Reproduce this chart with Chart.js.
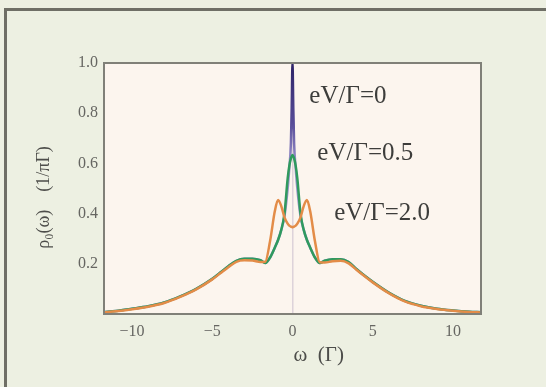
<!DOCTYPE html>
<html>
<head>
<meta charset="utf-8">
<script src="https://cdn.jsdelivr.net/npm/chart.js@4.4.1/dist/chart.umd.min.js"></script>
<style>
  html, body { margin: 0; padding: 0; background: #edf0e2; }
  #wrap { width: 546px; height: 387px; }
</style>
</head>
<body>
<div id="wrap"><canvas id="myChart" width="546" height="387"></canvas></div>
<script>
// energy axis (units of Gamma)
let omega = [-11.75, -11, -10, -9, -8, -7, -6, -5, -4.5, -4, -3.5, -3, -2.5, -2, -1.7, -1.4, -1.1, -0.9, -0.7, -0.5, -0.3, -0.2, -0.1, -0.05,
  0,
  0.05, 0.1, 0.2, 0.3, 0.5, 0.7, 0.9, 1.1, 1.4, 1.7, 2, 2.5, 3, 3.5, 4, 4.5, 5, 6, 7, 8, 9, 10, 11, 11.75];

// density of states for each bias
let rhoV0 = [0.008, 0.012, 0.021, 0.031, 0.046, 0.07, 0.1, 0.14, 0.165, 0.19, 0.212, 0.22, 0.22, 0.214, 0.203, 0.225, 0.265, 0.295, 0.335, 0.39, 0.5, 0.58, 0.68, 0.82,
  1.0,
  0.82, 0.68, 0.58, 0.5, 0.39, 0.335, 0.295, 0.265, 0.225, 0.203, 0.212, 0.218, 0.218, 0.207, 0.178, 0.152, 0.128, 0.085, 0.052, 0.033, 0.021, 0.014, 0.009, 0.007];
let rhoV05 = [0.008, 0.012, 0.021, 0.031, 0.046, 0.07, 0.1, 0.14, 0.165, 0.19, 0.212, 0.22, 0.22, 0.214, 0.203, 0.225, 0.265, 0.295, 0.335, 0.4, 0.54, 0.59, 0.62, 0.628,
  0.633,
  0.628, 0.62, 0.59, 0.54, 0.4, 0.335, 0.295, 0.265, 0.225, 0.203, 0.212, 0.218, 0.218, 0.207, 0.178, 0.152, 0.128, 0.085, 0.052, 0.033, 0.021, 0.014, 0.009, 0.007];
let rhoV20 = [0.007, 0.011, 0.019, 0.029, 0.044, 0.068, 0.098, 0.138, 0.162, 0.186, 0.208, 0.214, 0.213, 0.207, 0.208, 0.29, 0.41, 0.454, 0.43, 0.385, 0.36, 0.352, 0.348, 0.347,
  0.346,
  0.347, 0.348, 0.352, 0.36, 0.385, 0.43, 0.454, 0.41, 0.29, 0.206, 0.205, 0.21, 0.212, 0.202, 0.175, 0.15, 0.126, 0.083, 0.05, 0.031, 0.02, 0.013, 0.008, 0.006];

let xTicks = [-10, -5, 0, 5, 10];
let curveLabels = ['eV/Γ=0', 'eV/Γ=0.5', 'eV/Γ=2.0'];

function pts(vals) {
  return omega.map((w, i) => ({ x: w, y: vals[i] }));
}

// frame, backgrounds and curve labels
const decor = {
  id: 'decor',
  beforeDraw(chart) {
    const { ctx, chartArea: a } = chart;
    ctx.save();
    ctx.fillStyle = '#edf0e2';
    ctx.fillRect(0, 0, chart.width, chart.height);
    ctx.fillStyle = '#6f6f66';
    ctx.fillRect(4, 8, chart.width - 4, 3);
    ctx.fillRect(4, 8, 3, chart.height - 8);
    ctx.fillStyle = '#fcf5ee';
    ctx.fillRect(a.left, a.top, a.right - a.left, a.bottom - a.top);
    ctx.restore();
  },
  afterDraw(chart) {
    const { ctx, chartArea: a, scales } = chart;
    ctx.save();
    ctx.strokeStyle = '#808078';
    ctx.lineWidth = 2;
    ctx.strokeRect(a.left, a.top, a.right - a.left, a.bottom - a.top);
    // labels anchored in data coordinates
    let anchors = [[1.05, 0.865], [1.55, 0.64], [2.6, 0.40]];
    ctx.fillStyle = '#3d3d3b';
    ctx.font = '25px "Liberation Serif", "Times New Roman", serif';
    ctx.textBaseline = 'middle';
    curveLabels.forEach((t, i) => {
      ctx.fillText(t, scales.x.getPixelForValue(anchors[i][0]), scales.y.getPixelForValue(anchors[i][1]));
    });
    ctx.restore();
  }
};

let ctx = document.getElementById('myChart').getContext('2d');

let myChart = new Chart(ctx, {
  type: 'line',
  data: {
    datasets: [
      {
        label: curveLabels[2],
        data: pts(rhoV20),
        borderColor: '#e38c48',
        order: 1
      },
      {
        label: curveLabels[1],
        data: pts(rhoV05),
        borderColor: '#2f9a5e',
        order: 2
      },
      {
        label: curveLabels[0],
        data: pts(rhoV0),
        borderColor: (context) => {
          let chart = context.chart;
          if (!chart.chartArea) return '#4b3f8e';
          let y = chart.scales.y;
          let g = chart.ctx.createLinearGradient(0, y.getPixelForValue(1), 0, y.getPixelForValue(0.6));
          g.addColorStop(0, '#2c2266');
          g.addColorStop(0.6, '#574c98');
          g.addColorStop(1, '#9a92cc');
          return g;
        },
        order: 3
      }
    ]
  },
  options: {
    responsive: false,
    animation: false,
    layout: { padding: { top: 63, right: 65, left: 30, bottom: 0 } },
    elements: {
      point: { radius: 0 },
      line: { borderWidth: 2.5, cubicInterpolationMode: 'monotone', fill: false }
    },
    plugins: {
      legend: { display: false },
      tooltip: { enabled: false }
    },
    scales: {
      x: {
        type: 'linear',
        min: -11.75,
        max: 11.75,
        afterBuildTicks: (scale) => { scale.ticks = xTicks.map(v => ({ value: v })); },
        afterFit: (scale) => { scale.height = 73; },
        border: { display: false },
        grid: {
          drawTicks: false,
          lineWidth: 1.5,
          color: (c) => (c.tick && c.tick.value === 0 ? 'rgba(200,188,205,0.6)' : 'rgba(0,0,0,0)')
        },
        ticks: {
          padding: 8,
          color: '#666662',
          font: { family: '"Liberation Serif", serif', size: 16 },
          callback: (v) => (v < 0 ? '\u2212' + Math.abs(v) : String(v))
        },
        title: {
          display: true,
          text: '\u2003\u2003\u2002ω  (Γ)',
          color: '#4d4d4a',
          font: { family: '"Liberation Serif", serif', size: 21 },
          padding: { top: 0, bottom: 19 }
        }
      },
      y: {
        min: 0,
        max: 1,
        afterFit: (scale) => { scale.width = 74; },
        border: { display: false },
        grid: { display: false, drawTicks: false },
        ticks: {
          stepSize: 0.2,
          padding: 6,
          color: '#666662',
          font: { family: '"Liberation Serif", serif', size: 16 },
          callback: (v) => (Math.abs(v) < 1e-9 ? '' : v.toFixed(1))
        },
        title: {
          display: true,
          text: 'ρ₀(ω)    (1/πΓ)    ',
          color: '#4d4d4a',
          font: { family: '"Liberation Serif", serif', size: 18 },
          padding: { top: 3, bottom: 0 }
        }
      }
    }
  },
  plugins: [decor]
});
</script>
</body>
</html>
